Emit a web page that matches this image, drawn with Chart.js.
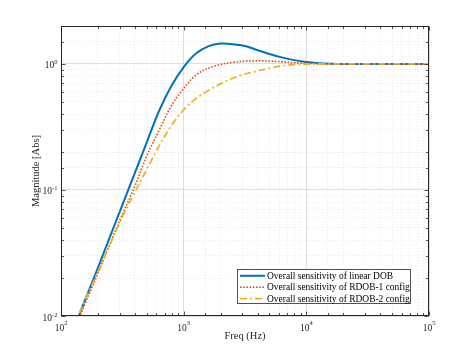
<!DOCTYPE html>
<html><head><meta charset="utf-8">
<script src="https://cdn.jsdelivr.net/npm/chart.js@4.4.0/dist/chart.umd.min.js"></script>
<style>html,body{margin:0;padding:0;background:#fff;}canvas{display:block;}</style>
</head><body>
<canvas id="c" width="474" height="355"></canvas>
<script>
// ---- data ----
const freqHz = [126,158,200,251,316,398,501,631,794,1000,1259,1585,1995,2512,3162,3981,5012,6310,7943,10000,12589,15849,19953,31623,100000];
const linearDOB = [0.0077,0.0136,0.0241,0.0427,0.0759,0.135,0.240,0.425,0.668,0.944,1.21,1.38,1.45,1.436,1.39,1.29,1.20,1.127,1.072,1.035,1.014,1.005,1.001,1.0,1.0];
const rdob1 = [0.0074,0.0127,0.0218,0.0374,0.0638,0.106,0.187,0.298,0.466,0.638,0.817,0.923,0.989,1.028,1.052,1.059,1.054,1.040,1.023,1.012,1.005,1.0,1.0,1.0,1.0];
const rdob2 = [0.0082,0.0136,0.0224,0.0370,0.0608,0.0955,0.146,0.224,0.324,0.432,0.531,0.614,0.695,0.771,0.832,0.879,0.927,0.964,0.986,0.995,1.0,1.0,1.0,1.0,1.0];
const seriesLabels = ['Overall sensitivity of linear DOB','Overall sensitivity of RDOB-1 config','Overall sensitivity of RDOB-2 config'];
const xTickValues = [100,1000,10000,100000];
const xTickBase = ['10','10','10','10'];
const xTickExp = ['2','3','4','5'];
const yTickValues = [0.01,0.1,1];
const yTickBase = ['10','10','10'];
const yTickExp = ['-2','-1','0'];
const xTitle = 'Freq (Hz)';
const yTitle = 'Magnitude [Abs]';

const colors = ['#0072BD','#D95319','#EDB120'];
const dashes = [[],[1.6,1.6],[7,3,2,3]];
const widths = [2,1.6,1.7];
const SERIF = '"Liberation Serif","Times New Roman",serif';
const isPow10 = v => Math.abs(Math.log10(v) - Math.round(Math.log10(v))) < 1e-6;

const mk = (arr) => freqHz.map((f,i)=>({x:f,y:arr[i]}));
const allSeries = [linearDOB, rdob1, rdob2];

const decor = {
  id:'decor',
  afterDatasetsDraw(chart){
    const {ctx, chartArea:a, scales:{x,y}} = chart;
    ctx.save();
    ctx.strokeStyle='#262626'; ctx.lineWidth=1;
    const L=Math.round(a.left)+0.5, T=Math.round(a.top)+0.5, R=Math.round(a.right)-0.5, B=Math.round(a.bottom)-0.5;
    ctx.strokeRect(L,T,R-L,B-T);
    ctx.lineWidth=0.8;
    ctx.beginPath();
    x.ticks.forEach(t=>{
      const p=Math.round(x.getPixelForValue(t.value))+0.5;
      if(p<a.left-1||p>a.right+1) return;
      const len=isPow10(t.value)?4:2.5;
      ctx.moveTo(p,B); ctx.lineTo(p,B-len);
      ctx.moveTo(p,T); ctx.lineTo(p,T+len);
    });
    y.ticks.forEach(t=>{
      const p=Math.round(y.getPixelForValue(t.value))+0.5;
      if(p<a.top-1||p>a.bottom+1) return;
      const len=isPow10(t.value)?4:2.5;
      ctx.moveTo(L,p); ctx.lineTo(L+len,p);
      ctx.moveTo(R,p); ctx.lineTo(R-len,p);
    });
    ctx.stroke();
    ctx.fillStyle='#262626';
    ctx.textBaseline='alphabetic';
    const bf='9.5px '+SERIF, ef='6.5px '+SERIF;
    xTickValues.forEach((v,i)=>{
      const p=x.getPixelForValue(v);
      ctx.font=bf; const wb=ctx.measureText(xTickBase[i]).width;
      ctx.font=ef; const we=ctx.measureText(xTickExp[i]).width;
      const s=p-(wb+we)/2;
      ctx.font=bf; ctx.textAlign='left'; ctx.fillText(xTickBase[i],s,a.bottom+14.5);
      ctx.font=ef; ctx.fillText(xTickExp[i],s+wb,a.bottom+9);
    });
    yTickValues.forEach((v,i)=>{
      const p=y.getPixelForValue(v);
      ctx.font=bf; const wb=ctx.measureText(yTickBase[i]).width;
      ctx.font=ef; const we=ctx.measureText(yTickExp[i]).width;
      const s=a.left-3.5-(wb+we);
      ctx.font=bf; ctx.textAlign='left'; ctx.fillText(yTickBase[i],s,p+4.5);
      ctx.font=ef; ctx.fillText(yTickExp[i],s+wb,p+0.5);
    });
    ctx.font='10px '+SERIF;
    const w10=ctx.measureText(seriesLabels[1]).width;
    const fs=10*143/w10;
    const bx=237.5, by=269.5, bw=173, bh=34;
    ctx.fillStyle='#fff'; ctx.fillRect(bx,by,bw,bh);
    ctx.strokeStyle='#262626'; ctx.lineWidth=0.8; ctx.strokeRect(bx,by,bw,bh);
    const rows=[275.8,287.2,298.6];
    seriesLabels.forEach((lab,i)=>{
      ctx.strokeStyle=colors[i]; ctx.lineWidth=widths[i]; ctx.setLineDash(dashes[i]);
      ctx.beginPath(); ctx.moveTo(240,rows[i]); ctx.lineTo(265,rows[i]); ctx.stroke();
      ctx.setLineDash([]);
      ctx.fillStyle='#000'; ctx.font=fs.toFixed(2)+'px '+SERIF; ctx.textBaseline='middle'; ctx.textAlign='left';
      ctx.fillText(lab,267,rows[i]+0.5);
    });
    ctx.restore();
  }
};

const gridColor = c => (c.tick && isPow10(c.tick.value)) ? 'rgba(0,0,0,0.12)' : 'rgba(0,0,0,0.08)';
const gridDash = c => (c.tick && !isPow10(c.tick.value)) ? [1,2] : [];

new Chart(document.getElementById('c'), {
  type:'line',
  data:{
    datasets: allSeries.map((arr,i)=>({
      label: seriesLabels[i],
      data: mk(arr),
      borderColor: colors[i],
      borderWidth: widths[i],
      borderDash: dashes[i],
      pointRadius: 0,
      fill: false,
      tension: 0.35,
      order: 2-i
    }))
  },
  options:{
    responsive:false, animation:false, devicePixelRatio:1,
    layout:{padding:{left:0,right:45,top:26,bottom:0}},
    plugins:{legend:{display:false}, tooltip:{enabled:false}},
    scales:{
      x:{type:'logarithmic', min:100, max:100000,
        afterFit:s=>{s.height=39;},
        ticks:{display:false, autoSkip:false},
        grid:{color:gridColor, lineWidth:1, drawTicks:false},
        border:{display:false, dash:gridDash},
        title:{display:true, text:xTitle, color:'#262626', font:{family:SERIF, size:10.5}, padding:{top:0,bottom:12.4}}
      },
      y:{type:'logarithmic', min:0.01, max:2,
        afterFit:s=>{s.width=61;},
        ticks:{display:false, autoSkip:false},
        grid:{color:gridColor, lineWidth:1, drawTicks:false},
        border:{display:false, dash:gridDash},
        title:{display:true, text:yTitle, color:'#262626', font:{family:SERIF, size:10.5}, padding:{top:30.4,bottom:0}}
      }
    }
  },
  plugins:[decor]
});
</script>
</body></html>
